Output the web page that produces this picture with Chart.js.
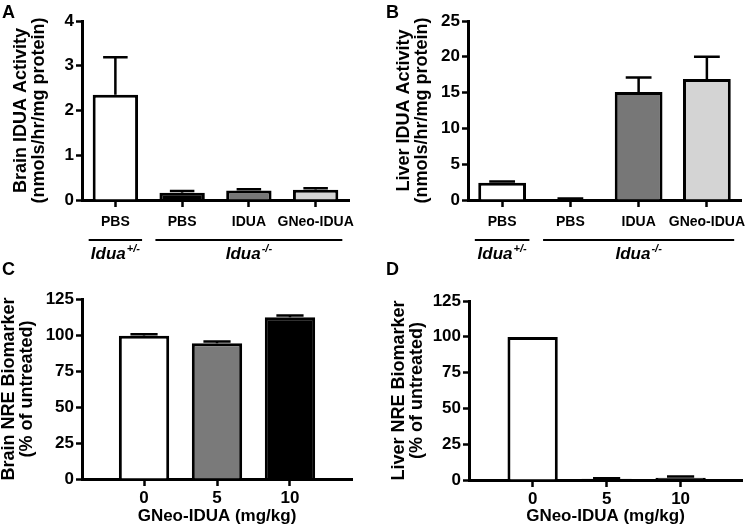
<!DOCTYPE html>
<html>
<head>
<meta charset="utf-8">
<script src="https://cdn.jsdelivr.net/npm/chart.js@4.4.0/dist/chart.umd.min.js"></script>
<style>
    html, body { margin: 0; padding: 0; background: #fff; }
    #fig { position: relative; width: 747px; height: 528px; font-family: "Liberation Sans", Arial, Helvetica, sans-serif; }
    .panel { position: absolute; }
    .letter { position: absolute; font-weight: bold; font-size: 18px; line-height: 18px; color: #000; }
</style>
</head>
<body>
<div id="fig">
    <div class="panel" style="left:0;top:0;width:374px;height:262px"><canvas id="chartA"></canvas></div>
    <div class="panel" style="left:374px;top:0;width:373px;height:262px"><canvas id="chartB"></canvas></div>
    <div class="panel" style="left:0;top:262px;width:374px;height:266px"><canvas id="chartC"></canvas></div>
    <div class="panel" style="left:374px;top:262px;width:373px;height:266px"><canvas id="chartD"></canvas></div>
    <div class="letter" style="left:2px;top:3px">A</div>
    <div class="letter" style="left:386px;top:3px">B</div>
    <div class="letter" style="left:2px;top:260px">C</div>
    <div class="letter" style="left:386px;top:260px">D</div>
</div>
<script>
// ========================================================================
// Data
// ========================================================================

const activityLabels = ['PBS', 'PBS', 'IDUA', 'GNeo-IDUA'];
const activityColors = ['#ffffff', '#000000', '#777777', '#d4d4d4'];
const genotypeGroups = [
    { name: 'Idua', sup: '+/-', first: 0, last: 0 },
    { name: 'Idua', sup: '-/-', first: 1, last: 3 }
];

const brainActivity = [2.35, 0.16, 0.21, 0.23];
const brainActivityErr = [0.84, 0.04, 0.03, 0.03];

const liverActivity = [2.4, 0.15, 15.1, 16.9];
const liverActivityErr = [0.2, 0.05, 2.0, 3.1];

const doseLabels = ['0', '5', '10'];
const doseColors = ['#ffffff', '#7a7a7a', '#000000'];

const brainNRE = [99.4, 94.3, 112.4];
const brainNREErr = [1.1, 1.2, 1.1];

const liverNRE = [99.8, 0.8, 1.6];
const liverNREErr = [0, 0.4, 0.9];

const FONT = '"Liberation Sans", Arial, Helvetica, sans-serif';
Chart.defaults.font.family = FONT;
Chart.defaults.font.weight = 'bold';
Chart.defaults.color = '#000';

// ========================================================================
// Plugins
// ========================================================================

// upward-only error bars with a cap, like Prism
const errorBarsPlugin = {
    id: 'errorBars',
    afterDatasetsDraw(chart, args, opts) {
        if (!opts.errors) return;
        const ctx = chart.ctx;
        const yScale = chart.scales.y;
        const ds = chart.data.datasets[0];
        const meta = chart.getDatasetMeta(0);
        ctx.save();
        ctx.strokeStyle = '#000';
        ctx.lineWidth = 2.5;
        meta.data.forEach((bar, i) => {
            const err = opts.errors[i];
            if (!err) return;
            const raw = ds.data[i];
            const val = typeof raw === 'object' ? raw.y : raw;
            const yTop = yScale.getPixelForValue(val + err);
            const half = bar.width * 0.27;
            ctx.beginPath();
            ctx.moveTo(bar.x, bar.y);
            ctx.lineTo(bar.x, yTop);
            ctx.moveTo(bar.x - half, yTop);
            ctx.lineTo(bar.x + half, yTop);
            ctx.stroke();
        });
        ctx.restore();
    }
};

// genotype brackets under the category labels
const genotypePlugin = {
    id: 'genotype',
    afterDraw(chart, args, opts) {
        if (!opts.groups) return;
        const ctx = chart.ctx;
        const x = chart.scales.x;
        const lineY = chart.chartArea.bottom + 40;
        const textY = chart.chartArea.bottom + 59;
        ctx.save();
        opts.groups.forEach(g => {
            const x0 = x.getPixelForValue(g.first - 0.4);
            const x1 = x.getPixelForValue(g.last + 0.4);
            ctx.strokeStyle = '#000';
            ctx.lineWidth = 2.2;
            ctx.beginPath();
            ctx.moveTo(x0, lineY);
            ctx.lineTo(x1, lineY);
            ctx.stroke();

            ctx.fillStyle = '#000';
            ctx.textBaseline = 'alphabetic';
            ctx.textAlign = 'left';
            ctx.font = 'italic bold 17px ' + FONT;
            const w1 = ctx.measureText(g.name).width;
            ctx.font = 'italic bold 11px ' + FONT;
            const w2 = ctx.measureText(g.sup).width;
            const start = (x0 + x1) / 2 - (w1 + w2 + 1) / 2;
            ctx.font = 'italic bold 17px ' + FONT;
            ctx.fillText(g.name, start, textY);
            ctx.font = 'italic bold 11px ' + FONT;
            ctx.fillText(g.sup, start + w1 + 1, textY - 7);
        });
        ctx.restore();
    }
};

// ========================================================================
// Chart builder
// ========================================================================

function axisLook(extra) {
    return Object.assign({
        grid: { display: true, drawOnChartArea: false, drawTicks: true, tickLength: 6, tickWidth: 2.5, color: '#000', offset: false },
        border: { display: true, color: '#000', width: 3 }
    }, extra);
}

function bar_chart(id, p) {
    const isDose = !p.categories;
    const data = isDose ? p.values.map((v, i) => ({ x: i, y: v })) : p.values;

    const xScale = isDose ? axisLook({
        type: 'linear',
        offset: false,
        min: p.xMin,
        max: p.xMax,
        afterBuildTicks: s => { s.ticks = doseLabels.map((_, i) => ({ value: i })); },
        afterFit: s => { s.height = p.xHeight; s.paddingLeft = 0; s.paddingRight = 0; },
        ticks: { callback: v => doseLabels[v], font: { size: 17 }, padding: 2, maxRotation: 0 },
        title: { display: true, text: 'GNeo-IDUA (mg/kg)', font: { size: 17 }, padding: { top: 0, bottom: 1 } }
    }) : axisLook({
        type: 'category',
        labels: p.categories,
        afterFit: s => { s.height = p.xHeight; s.paddingLeft = 0; s.paddingRight = 0; },
        ticks: { font: { size: 14 }, padding: 7, maxRotation: 0, autoSkip: false }
    });
    xScale.grid.tickLength = 7;

    new Chart(document.getElementById(id), {
        type: 'bar',
        data: {
            labels: p.categories,
            datasets: [{
                data: data,
                backgroundColor: p.colors,
                borderColor: '#000',
                borderWidth: 3,
                borderSkipped: 'start',
                categoryPercentage: 1,
                barPercentage: p.barPct
            }]
        },
        options: {
            responsive: true,
            maintainAspectRatio: false,
            animation: false,
            layout: { padding: p.padding },
            plugins: {
                legend: { display: false },
                tooltip: { enabled: false },
                errorBars: { errors: p.errors },
                genotype: { groups: p.groups }
            },
            scales: {
                x: xScale,
                y: axisLook({
                    min: 0,
                    max: p.yMax,
                    afterFit: s => { s.width = p.yWidth; },
                    ticks: { stepSize: p.yStep, font: { size: 17 }, padding: 2 },
                    title: {
                        display: true,
                        text: p.yTitle,
                        font: { size: 18, lineHeight: 1.0 },
                        padding: { top: 0, bottom: 0 }
                    }
                })
            }
        },
        plugins: [errorBarsPlugin, genotypePlugin]
    });
}

// ========================================================================
// Panels
// ========================================================================

bar_chart('chartA', {
    categories: activityLabels, values: brainActivity, errors: brainActivityErr,
    colors: activityColors, groups: genotypeGroups,
    yMax: 4, yStep: 1, yTitle: ['Brain IDUA Activity', '(nmols/hr/mg protein)'],
    padding: { left: 12, top: 21, right: 25, bottom: 0 }, yWidth: 70, xHeight: 62, barPct: 0.68
});

bar_chart('chartB', {
    categories: activityLabels, values: liverActivity, errors: liverActivityErr,
    colors: activityColors, groups: genotypeGroups,
    yMax: 25, yStep: 5, yTitle: ['Liver IDUA Activity', '(nmols/hr/mg protein)'],
    padding: { left: 21, top: 21, right: 6, bottom: 0 }, yWidth: 73, xHeight: 62, barPct: 0.7
});

bar_chart('chartC', {
    values: brainNRE, errors: brainNREErr, colors: doseColors,
    xMin: -0.85, xMax: 2.85,
    yMax: 125, yStep: 25, yTitle: ['Brain NRE Biomarker', '(% of untreated)'],
    padding: { left: 0, top: 37, right: 22, bottom: 0 }, yWidth: 82, xHeight: 49, barPct: 0.69
});

bar_chart('chartD', {
    values: liverNRE, errors: liverNREErr, colors: ['#ffffff', '#000000', '#000000'],
    xMin: -0.86, xMax: 2.83,
    yMax: 125, yStep: 25, yTitle: ['Liver NRE Biomarker', '(% of untreated)'],
    padding: { left: 16, top: 39, right: 5, bottom: 0 }, yWidth: 79, xHeight: 48, barPct: 0.68
});
</script>
</body>
</html>
